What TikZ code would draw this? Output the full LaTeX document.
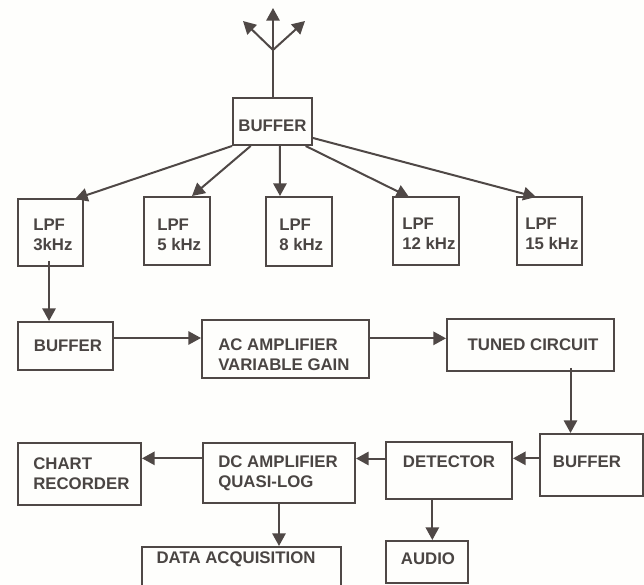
\documentclass[tikz,border=0pt]{standalone}
\usepackage{fontspec}
\setmainfont{Liberation Sans}
\usetikzlibrary{arrows.meta,calc}
\definecolor{ink}{HTML}{4F4846}
\definecolor{txt}{HTML}{4A4543}
\definecolor{paper}{HTML}{FEFEFC}
\tikzset{
  x=0.75pt,y=-0.75pt,
  blk/.style={draw=ink,line width=1.5pt,inner sep=0pt},
  lbl/.style={text=txt,font=\bfseries\fontsize{12.6}{15}\selectfont,inner sep=0pt,align=left},
  conn/.style={draw=ink,line width=1.5pt,-{Triangle[length=9.5pt,width=10pt,fill=ink]}}
}
\begin{document}
\begin{tikzpicture}
\useasboundingbox (0,0) rectangle (644,585);
\fill[paper] (0,0) rectangle (644,585);
% boxes
\node[blk,minimum width=59.25pt,minimum height=35.25pt] (topbuf) at (272.5,121.5) {};
\node[blk,minimum width=48.75pt,minimum height=50.25pt] (lpfa) at (50.5,232.5) {};
\node[blk,minimum width=49.5pt,minimum height=51pt] (lpfb) at (177,231.5) {};
\node[blk,minimum width=49.5pt,minimum height=51.75pt] (lpfc) at (299,231.5) {};
\node[blk,minimum width=49.5pt,minimum height=51pt] (lpfd) at (426,231) {};
\node[blk,minimum width=48.75pt,minimum height=51pt] (lpfe) at (549.5,231) {};
\node[blk,minimum width=71.25pt,minimum height=36pt] (bufa) at (65.5,346) {};
\node[blk,minimum width=125.25pt,minimum height=43.5pt] (acamp) at (285.5,349) {};
\node[blk,minimum width=125.25pt,minimum height=39pt] (tuned) at (530.5,345) {};
\node[blk,minimum width=77.25pt,minimum height=46.5pt] (bufb) at (591.5,465) {};
\node[blk,minimum width=94.5pt,minimum height=42.75pt] (det) at (449,470.5) {};
\node[blk,minimum width=114pt,minimum height=45pt] (dcamp) at (279,473) {};
\node[blk,minimum width=92.25pt,minimum height=46.5pt] (chart) at (79.5,474) {};
\node[blk,minimum width=61.5pt,minimum height=31.5pt] (audio) at (427,562) {};
% data acquisition box runs off the lower edge of the picture
\node[blk,minimum width=149.25pt,minimum height=37.5pt] (data) at (241.5,572) {};
\fill[paper] (130,585) rectangle (350,600);
% labels
\node[lbl,anchor=center] (tbuffer) at (272.5,126) {BUFFER};
\node[lbl,anchor=west] (t3) at (33,234.5) {LPF\\3kHz};
\node[lbl,anchor=west] (t5) at (157,234.5) {LPF\\5 kHz};
\node[lbl,anchor=west] (t8) at (279,234.5) {LPF\\8 kHz};
\node[lbl,anchor=west] (t12) at (402,234) {LPF\\12 kHz};
\node[lbl,anchor=west] (t15) at (525,234) {LPF\\15 kHz};
\node[lbl,anchor=center] (tbufa) at (68,346) {BUFFER};
\node[lbl,anchor=west] (tac) at (218,355) {AC AMPLIFIER\\VARIABLE GAIN};
\node[lbl,anchor=center] (ttuned) at (533,345) {TUNED CIRCUIT};
\node[lbl,anchor=center] (tbufb) at (587,462) {BUFFER};
\node[lbl,anchor=center] (tdet) at (449,462) {DETECTOR};
\node[lbl,anchor=west] (tdc) at (218,473.5) {DC AMPLIFIER\\QUASI-LOG};
\node[lbl,anchor=west] (tchart) at (33,473.5) {CHART\\RECORDER};
\node[lbl,anchor=center] (tdata) at (236,559) {DATA ACQUISITION};
\node[lbl,anchor=center] (taudio) at (428,559) {AUDIO};
% antenna
\coordinate (fork) at (273,50);
\coordinate (ant1) at (243,21);
\coordinate (ant2) at (273,8);
\coordinate (ant3) at (305,21);
\draw[conn] (topbuf.north -| fork) -- (ant2);
\draw[conn] (fork) -- (ant1);
\draw[conn] (fork) -- (ant3);
% filter bank
\coordinate (ea) at (75,199);
\coordinate (eb) at (192,196);
\coordinate (ec) at (280,196);
\coordinate (ed) at (409,197);
\coordinate (ee) at (536,197);
\draw[conn] (topbuf.south west) -- (ea);
\draw[conn] ([xshift=14pt]topbuf.south west) -- (eb);
\draw[conn] ([xshift=5.5pt]topbuf.south) -- (ec);
\draw[conn] ([xshift=-5.5pt]topbuf.south east) -- (ed);
\draw[conn] ([yshift=6pt]topbuf.south east) -- (ee);
% chain
\draw[conn] ([xshift=-1.1pt,yshift=4.5pt]lpfa.south) -- ([xshift=-1.1pt]lpfa.south |- bufa.north);
\draw[conn] ([yshift=6pt]bufa.east) -- ([yshift=6pt]bufa.east -| acamp.west);
\draw[conn] ([yshift=8pt]acamp.east) -- ([yshift=8pt]acamp.east -| tuned.west);
\draw[conn] ([xshift=30pt,yshift=3pt]tuned.south) -- ([xshift=30pt]tuned.south |- bufb.north);
\draw[conn] ([yshift=5pt]bufb.west) -- ([yshift=5pt]bufb.west -| det.east);
\draw[conn] ([yshift=9pt]det.west) -- ([yshift=9pt]det.west -| dcamp.east);
\draw[conn] ([yshift=11pt]dcamp.west) -- ([yshift=11pt]dcamp.west -| chart.east);
\draw[conn] (dcamp.south) -- (dcamp.south |- data.north);
\draw[conn] ([xshift=-12.5pt,yshift=1.5pt]det.south) -- ([xshift=-12.5pt]det.south |- audio.north);
\end{tikzpicture}
\end{document}
